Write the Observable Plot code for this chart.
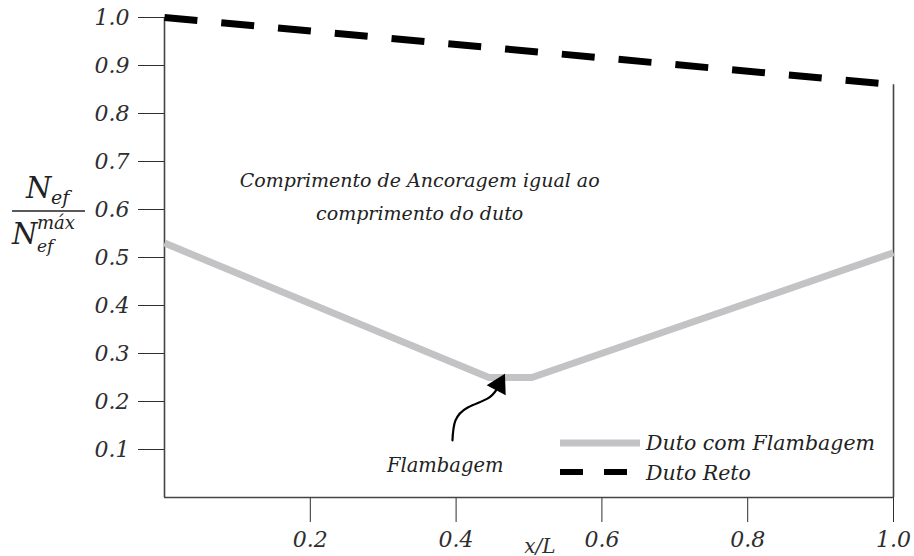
<!DOCTYPE html>
<html>
<head>
<meta charset="utf-8">
<script src="https://cdn.jsdelivr.net/npm/d3@7"></script>
<script src="https://cdn.jsdelivr.net/npm/@observablehq/plot@0.6"></script>
<style>
  html, body { margin: 0; padding: 0; background: #ffffff; }
  #wrap { position: relative; width: 914px; height: 556px; }
  #overlay { position: absolute; left: 0; top: 0; pointer-events: none; }
  #overlay text { font-family: "DejaVu Serif", serif; font-style: italic; fill: #222; }
</style>
</head>
<body>
<div id="wrap"></div>
<script>
// ---- data ----
const xTicks = [0.2, 0.4, 0.6, 0.8, 1.0];
const yTicks = [0.1, 0.2, 0.3, 0.4, 0.5, 0.6, 0.7, 0.8, 0.9, 1.0];

// Duto com Flambagem (grey solid)
const flambX = [0, 0.445, 0.504, 1.0];
const flambY = [0.53, 0.25, 0.25, 0.51];

// Duto Reto (black dashed)
const retoX = [0, 1.0];
const retoY = [1.0, 0.86];

// annotation: curved arrow pointing at the buckling zone (data units)
const arrowX = [0.395, 0.399, 0.416, 0.443, 0.4565];
const arrowY = [0.119, 0.160, 0.1875, 0.206, 0.227];
const arrowHead = [{x: 0.459, y: 0.235}];

const annText = "Comprimento de Ancoragem igual ao\ncomprimento do duto";
const annPos = [{x: 0.35, y: 0.635}];
const flambLabelPos = [{x: 0.385, y: 0.066}];

const flamb = flambX.map((x, i) => ({x, y: flambY[i]}));
const reto = retoX.map((x, i) => ({x, y: retoY[i]}));
const arrow = arrowX.map((x, i) => ({x, y: arrowY[i]}));

const chart = Plot.plot({
  width: 914,
  height: 556,
  marginLeft: 164,
  marginRight: 21,
  marginTop: 17,
  marginBottom: 59,
  style: {
    fontFamily: "DejaVu Serif",
    fontStyle: "italic",
    fontSize: "22px",
    color: "#2e2e2e",
    background: "#ffffff"
  },
  x: {
    domain: [0, 1],
    ticks: xTicks,
    tickSize: 25,
    tickPadding: 9,
    tickFormat: d3.format(".1f"),
    label: null
  },
  y: {
    domain: [0, 1],
    ticks: yTicks,
    tickSize: 26,
    tickPadding: 9,
    tickFormat: d3.format(".1f"),
    label: null
  },
  marks: [
    // axis lines and right border
    Plot.ruleX([0], {stroke: "#444", strokeWidth: 1.6}),
    Plot.ruleY([0], {stroke: "#444", strokeWidth: 1.6}),
    Plot.ruleX([retoX[retoX.length - 1]], {y1: 0, y2: retoY[retoY.length - 1], stroke: "#444", strokeWidth: 1.6}),
    // series
    Plot.line(flamb, {x: "x", y: "y", stroke: "#c3c3c6", strokeWidth: 7, strokeLinecap: "butt", strokeLinejoin: "bevel"}),
    Plot.line(reto, {x: "x", y: "y", stroke: "#000", strokeWidth: 7, strokeDasharray: "33,24", strokeLinecap: "butt"}),
    // annotations
    Plot.text(annPos, {x: "x", y: "y", text: () => annText, fontSize: 19, lineHeight: 1.75, fill: "#222", textAnchor: "middle"}),
    Plot.text(flambLabelPos, {x: "x", y: "y", text: () => "Flambagem", fontSize: 19.5, fill: "#222", textAnchor: "middle"}),
    Plot.line(arrow, {x: "x", y: "y", curve: "natural", stroke: "#000", strokeWidth: 2.2}),
    Plot.dot(arrowHead, {x: "x", y: "y", symbol: "triangle", r: 8, fill: "#000", stroke: "none", rotate: 28}),
    // axis title
    Plot.text(["x/L"], {x: 0.515, frameAnchor: "bottom", dy: 55, text: d => d, fontSize: 20, fill: "#2e2e2e", lineAnchor: "bottom"})
  ]
});

const wrap = document.getElementById("wrap");
wrap.appendChild(chart);

// overlay: y-axis fraction label and legend
const ov = d3.select(wrap).append("svg")
  .attr("id", "overlay")
  .attr("width", 914).attr("height", 556);

// y label: N_ef / N_ef^máx
const yl = ov.append("g");
yl.append("text").attr("x", 26).attr("y", 198).attr("font-size", 29).text("N");
yl.append("text").attr("x", 51).attr("y", 204).attr("font-size", 19).text("ef");
yl.append("line").attr("x1", 12).attr("x2", 85).attr("y1", 211).attr("y2", 211)
  .attr("stroke", "#222").attr("stroke-width", 1.6);
yl.append("text").attr("x", 12).attr("y", 244).attr("font-size", 29).text("N");
yl.append("text").attr("x", 37).attr("y", 229).attr("font-size", 18).text("máx");
yl.append("text").attr("x", 37).attr("y", 252).attr("font-size", 17).text("ef");

// legend
const lg = ov.append("g");
lg.append("line").attr("x1", 560).attr("x2", 640).attr("y1", 443).attr("y2", 443)
  .attr("stroke", "#c3c3c6").attr("stroke-width", 7);
lg.append("text").attr("x", 646).attr("y", 450).attr("font-size", 20.5).text("Duto com Flambagem");
lg.append("line").attr("x1", 560).attr("x2", 627).attr("y1", 472).attr("y2", 472)
  .attr("stroke", "#000").attr("stroke-width", 6).attr("stroke-dasharray", "23,21");
lg.append("text").attr("x", 646).attr("y", 480).attr("font-size", 20.5).text("Duto Reto");
</script>
</body>
</html>
